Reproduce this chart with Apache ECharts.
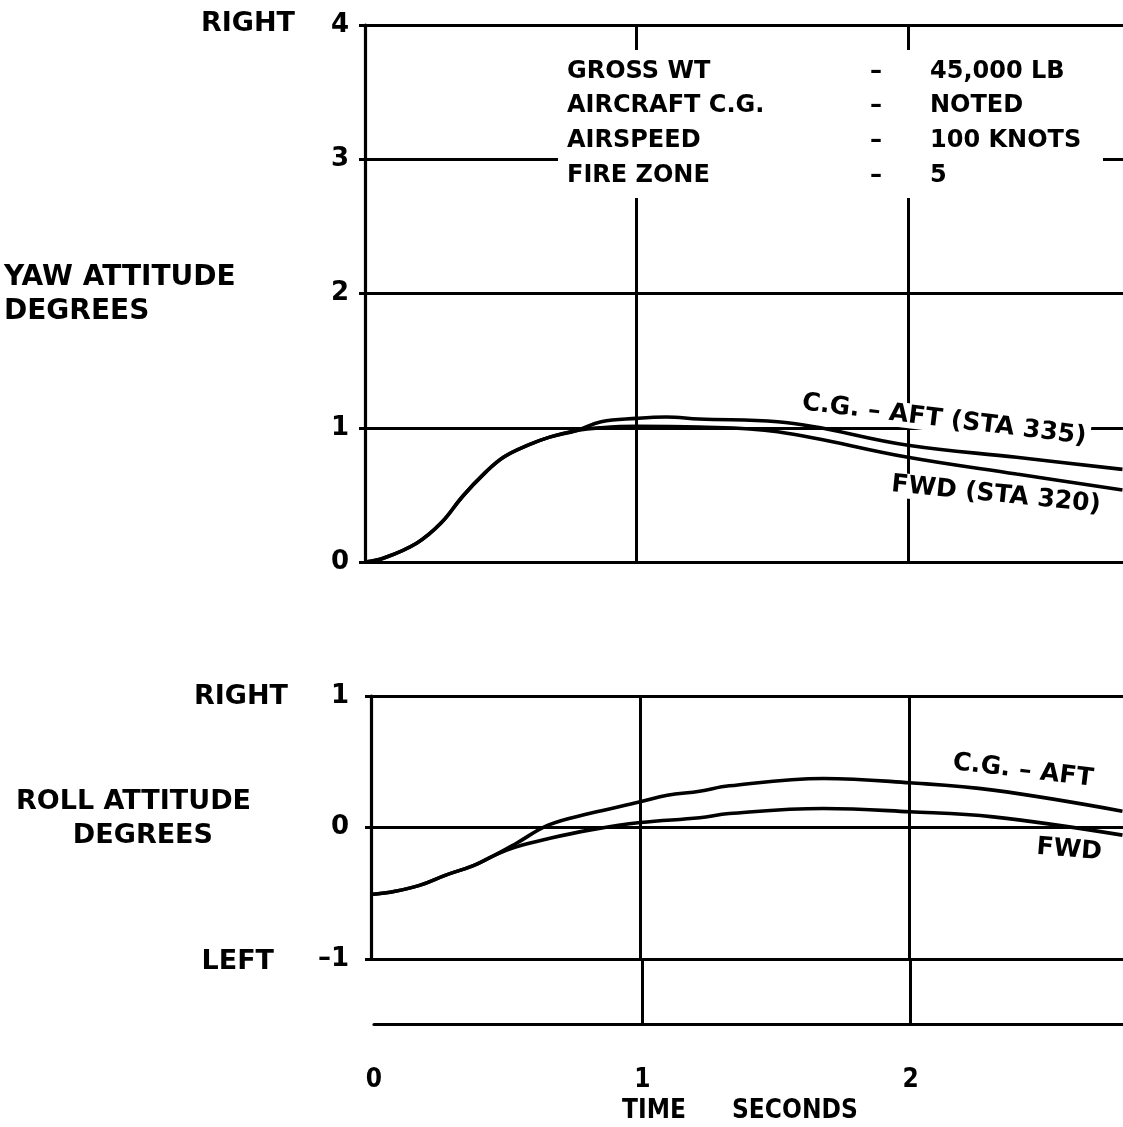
<!DOCTYPE html>
<html>
<head>
<meta charset="utf-8">
<script src="https://cdn.jsdelivr.net/npm/echarts@6/dist/echarts.min.js"></script>
<style>
html,body{margin:0;padding:0;background:#fff;}
#c{width:1123px;height:1127px;}
</style>
</head>
<body>
<div id="c"></div>
<script>
// ---- data ----
var yawTimeAft = [0, 0.07, 0.19, 0.28, 0.36, 0.44, 0.51, 0.60, 0.68, 0.78, 0.87, 1.00, 1.11, 1.23, 1.52, 2.00, 2.40, 2.79];
var yawAft     = [0, 0.03, 0.14, 0.29, 0.49, 0.66, 0.78, 0.87, 0.93, 0.98, 1.045, 1.07, 1.08, 1.065, 1.045, 0.87, 0.78, 0.69];
var yawTimeFwd = [0, 0.07, 0.19, 0.28, 0.36, 0.44, 0.51, 0.60, 0.68, 0.78, 0.87, 1.00, 1.23, 1.52, 2.00, 2.40, 2.79];
var yawFwd     = [0, 0.03, 0.14, 0.29, 0.49, 0.66, 0.78, 0.87, 0.93, 0.98, 1.00, 1.01, 1.005, 0.97, 0.78, 0.655, 0.536];

var rollTimeAft = [0, 0.09, 0.18, 0.28, 0.38, 0.46, 0.54, 0.66, 0.81, 1.00, 1.10, 1.22, 1.33, 1.68, 2.00, 2.31, 2.79];
var rollAft     = [-0.51, -0.485, -0.44, -0.36, -0.29, -0.21, -0.12, 0.02, 0.106, 0.195, 0.245, 0.276, 0.317, 0.373, 0.34, 0.284, 0.124];
var rollTimeFwd = [0, 0.09, 0.18, 0.28, 0.38, 0.46, 0.54, 0.66, 0.81, 1.00, 1.22, 1.33, 1.68, 2.00, 2.31, 2.79];
var rollFwd     = [-0.51, -0.485, -0.44, -0.36, -0.29, -0.21, -0.147, -0.084, -0.02, 0.038, 0.074, 0.106, 0.144, 0.12, 0.081, -0.058];

var timeTicks = ['0', '1', '2'];
var infoNames = ['GROSS WT', 'AIRCRAFT C.G.', 'AIRSPEED', 'FIRE ZONE'];
var infoValues = ['45,000 LB', 'NOTED', '100 KNOTS', '5'];

function pairs(t, v) { return t.map(function (x, i) { return [x, v[i]]; }); }

var F = '"DejaVu Sans", "Liberation Sans", Arial, sans-serif';
var FC = '"DejaVu Sans Condensed", "DejaVu Sans", "Liberation Sans Narrow", sans-serif';
var XMAX = 2.792;

var chart = echarts.init(document.getElementById('c'), null, {renderer: 'canvas'});

var lineStyleAxis = {color: '#000', width: 3.2};
var splitStyle = {color: '#000', width: 3};

function curve(name, data, xi) {
  return {
    name: name, type: 'line', xAxisIndex: xi, yAxisIndex: xi,
    data: data, smooth: 0.4, showSymbol: false, symbol: 'none',
    lineStyle: {color: '#000', width: 3.6}, z: 3, silent: true, animation: false
  };
}

var graphics = [];
graphics.push({type: 'rect', shape: {x: 558, y: 50, width: 545, height: 148}, style: {fill: '#fff'}, z: 1});
var infoY = [72, 106, 141, 176];
infoNames.forEach(function (n, i) {
  graphics.push({type: 'text', x: 567, y: infoY[i], z: 10, style: {text: n, font: 'bold 24px ' + F, fill: '#000', textAlign: 'left', textVerticalAlign: 'middle'}});
  graphics.push({type: 'text', x: 876, y: infoY[i], z: 10, style: {text: '–', font: 'bold 24px ' + F, fill: '#000', textAlign: 'center', textVerticalAlign: 'middle'}});
  graphics.push({type: 'text', x: 930, y: infoY[i], z: 10, style: {text: infoValues[i], font: 'bold 24px ' + F, fill: '#000', textAlign: 'left', textVerticalAlign: 'middle'}});
});

function label(txt, x, y, align, size, fam) {
  return {type: 'text', x: x, y: y, z: 10, style: {text: txt, font: 'bold ' + (size || 27) + 'px ' + (fam || F), fill: '#000', textAlign: align || 'left', textVerticalAlign: 'middle'}};
}
graphics.push(label('RIGHT', 295, 24, 'right'));
graphics.push(label('YAW ATTITUDE', 4, 278, 'left', 28));
graphics.push(label('DEGREES', 4, 312, 'left', 28));
graphics.push(label('RIGHT', 288, 697, 'right'));
graphics.push(label('ROLL ATTITUDE', 251, 802, 'right'));
graphics.push(label('DEGREES', 213, 836, 'right'));
graphics.push(label('LEFT', 274, 962, 'right'));
graphics.push(label('TIME', 622, 1111, 'left', 26, FC));
graphics.push(label('SECONDS', 732, 1111, 'left', 26, FC));

function rlabel(txt, x, y, rot, size) {
  return {type: 'text', x: x, y: y, rotation: rot, z: 10,
    style: {text: txt, font: 'bold ' + size + 'px ' + F, fill: '#000', textAlign: 'center', textVerticalAlign: 'middle',
      backgroundColor: '#fff', padding: [0, 4]}};
}
graphics.push(rlabel('C.G. – AFT (STA 335)', 944, 420, -0.12, 25));
graphics.push(rlabel('FWD (STA 320)', 996, 495, -0.1, 25));
graphics.push(rlabel('C.G. – AFT', 1023, 771, -0.12, 25));
graphics.push(rlabel('FWD', 1069, 850, -0.08, 25));

var option = {
  backgroundColor: '#fff',
  animation: false,
  grid: [
    {left: 365, top: 25, width: 758, height: 537},
    {left: 371, top: 696, width: 752, height: 263},
    {left: 374, top: 959, width: 749, height: 65}
  ],
  xAxis: [
    {gridIndex: 0, type: 'value', min: 0, max: XMAX, interval: 1,
      axisLine: {show: true, onZero: false, lineStyle: lineStyleAxis}, axisTick: {show: false}, axisLabel: {show: false},
      splitLine: {show: true, showMinLine: false, showMaxLine: false, lineStyle: splitStyle}},
    {gridIndex: 1, type: 'value', min: 0, max: XMAX, interval: 1,
      axisLine: {show: false}, axisTick: {show: false}, axisLabel: {show: false},
      splitLine: {show: true, showMinLine: false, showMaxLine: false, lineStyle: splitStyle}},
    {gridIndex: 2, type: 'value', min: 0, max: XMAX, interval: 1,
      axisLine: {show: true, onZero: false, lineStyle: lineStyleAxis}, axisTick: {show: false},
      axisLabel: {show: true, margin: 43, color: '#000', fontFamily: FC, fontWeight: 'bold', fontSize: 26,
        showMaxLabel: false,
        formatter: function (v) { return timeTicks[Math.round(v)] || ''; }},
      splitLine: {show: true, showMinLine: false, showMaxLine: false, lineStyle: splitStyle}}
  ],
  yAxis: [
    {gridIndex: 0, type: 'value', min: 0, max: 4, interval: 1,
      axisLine: {show: true, onZero: false, lineStyle: lineStyleAxis},
      axisTick: {show: true, length: 6, lineStyle: {color: '#000', width: 3}},
      axisLabel: {show: true, margin: 16, color: '#000', fontFamily: F, fontWeight: 'bold', fontSize: 26},
      splitLine: {show: true, lineStyle: splitStyle}},
    {gridIndex: 1, type: 'value', min: -1, max: 1, interval: 1,
      axisLine: {show: true, onZero: false, lineStyle: lineStyleAxis},
      axisTick: {show: true, length: 6, lineStyle: {color: '#000', width: 3}},
      axisLabel: {show: true, margin: 22, color: '#000', fontFamily: F, fontWeight: 'bold', fontSize: 26,
        formatter: function (v) { return v < 0 ? '–' + Math.abs(v) : String(v); }},
      splitLine: {show: true, lineStyle: splitStyle}},
    {gridIndex: 2, type: 'value', min: 0, max: 1, show: false}
  ],
  series: [
    curve('C.G. – AFT (STA 335)', pairs(yawTimeAft, yawAft), 0),
    curve('FWD (STA 320)', pairs(yawTimeFwd, yawFwd), 0),
    curve('C.G. – AFT', pairs(rollTimeAft, rollAft), 1),
    curve('FWD', pairs(rollTimeFwd, rollFwd), 1)
  ],
  graphic: {elements: graphics}
};
chart.setOption(option);
</script>
</body>
</html>
